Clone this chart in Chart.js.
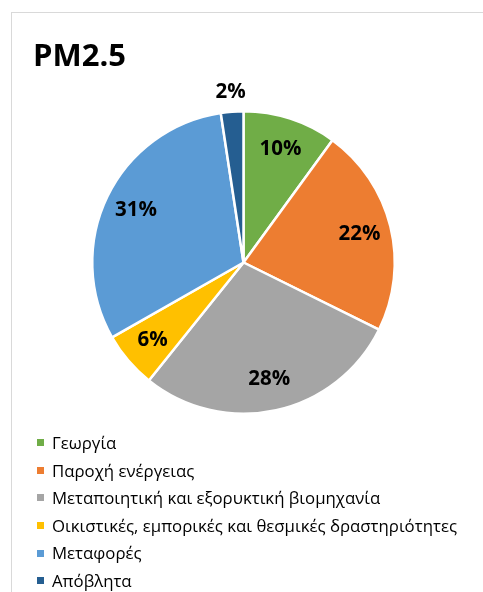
<!DOCTYPE html>
<html>
<head>
<meta charset="utf-8">
<script src="https://cdn.jsdelivr.net/npm/chart.js@4"></script>
<style>
  html, body { margin: 0; padding: 0; background: #fff; }
  body { width: 483px; height: 592px; position: relative; overflow: hidden; font-family: "Open Sans", sans-serif; }
  #frame { position: absolute; left: 11px; top: 12px; width: 500px; height: 600px; border: 1px solid #d9d9d9; box-sizing: border-box; }
  #title { position: absolute; left: 33px; top: 34px; font: bold 31px "Open Sans", sans-serif; color: #000; margin: 0; line-height: 40px; }
  #chartWrap { position: absolute; left: 0; top: 0; width: 483px; height: 592px; }
  #legend { position: absolute; left: 37px; top: 429px; margin: 0; padding: 0; list-style: none; }
  #legend li { height: 27.6px; line-height: 27.6px; font-size: 16.8px; color: #000; white-space: nowrap; display: flex; align-items: center; }
  #legend .box { display: inline-block; width: 7px; height: 7px; margin-right: 8px; }
</style>
</head>
<body>
<div id="frame"></div>
<div id="chartWrap"><canvas id="c" width="483" height="592"></canvas></div>
<div id="title">PM2.5</div>
<ul id="legend"></ul>
<script>
const categories = [
  "Γεωργία",
  "Παροχή ενέργειας",
  "Μεταποιητική και εξορυκτική βιομηχανία",
  "Οικιστικές, εμπορικές και θεσμικές δραστηριότητες",
  "Μεταφορές",
  "Απόβλητα"
];
const shares = [10.0, 22.3, 28.4, 6.0, 30.8, 2.4];
const colors = ["#70AD47", "#ED7D31", "#A5A5A5", "#FFC000", "#5B9BD5", "#255E91"];

const labelPlugin = {
  id: 'sliceLabels',
  afterDatasetsDraw(chart) {
    const ctx = chart.ctx;
    const meta = chart.getDatasetMeta(0);
    const data = chart.data.datasets[0].data;
    const total = data.reduce((a, b) => a + b, 0);
    ctx.save();
    ctx.font = 'bold 20.5px "Open Sans", sans-serif';
    ctx.fillStyle = '#000';
    ctx.textAlign = 'center';
    ctx.textBaseline = 'middle';
    meta.data.forEach((arc, i) => {
      const p = arc.getProps(['x', 'y', 'startAngle', 'endAngle', 'outerRadius'], true);
      const mid = (p.startAngle + p.endAngle) / 2;
      const pct = data[i] / total * 100;
      const r = pct < 4 ? p.outerRadius + 20 : p.outerRadius * 0.79;
      const x = p.x + Math.cos(mid) * r;
      const y = p.y + Math.sin(mid) * r;
      ctx.fillText(Math.round(pct) + '%', x, y);
    });
    ctx.restore();
  }
};

const chart = new Chart(document.getElementById('c'), {
  type: 'pie',
  data: {
    labels: categories,
    datasets: [{
      data: shares,
      backgroundColor: colors,
      borderColor: '#ffffff',
      borderWidth: 2.5
    }]
  },
  options: {
    responsive: false,
    animation: false,
    layout: { padding: { left: 91, right: 87, top: 110, bottom: 177 } },
    plugins: {
      legend: { display: false },
      tooltip: { enabled: false },
      title: { display: false }
    }
  },
  plugins: [labelPlugin]
});

const legend = document.getElementById('legend');
categories.forEach((name, i) => {
  const li = document.createElement('li');
  const box = document.createElement('span');
  box.className = 'box';
  box.style.background = colors[i];
  li.appendChild(box);
  li.appendChild(document.createTextNode(name));
  legend.appendChild(li);
});
</script>
</body>
</html>
